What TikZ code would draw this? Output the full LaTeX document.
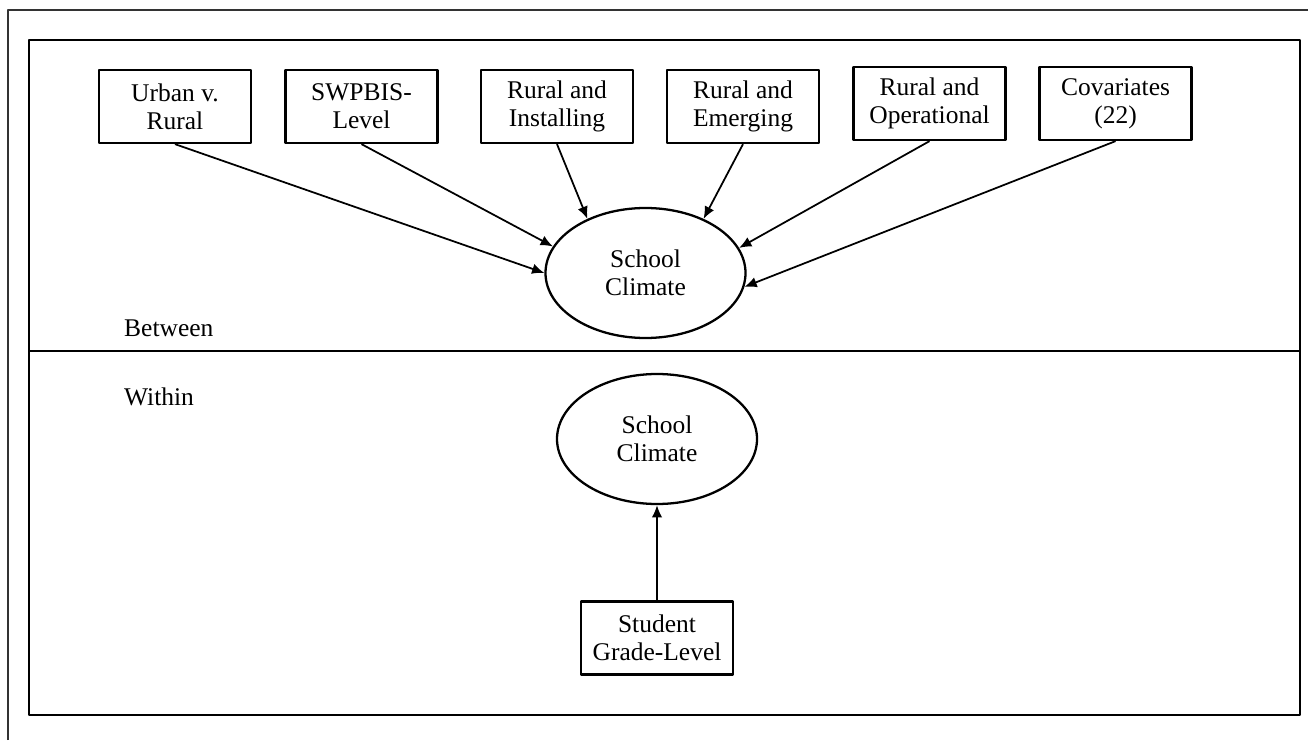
\documentclass[tikz,border=0pt]{standalone}
\usepackage{fontspec}
\setmainfont{Liberation Serif}
\usetikzlibrary{arrows.meta,shapes.geometric}

\begin{document}
\begin{tikzpicture}[x=1cm,y=1cm,line join=round,
  font=\fontsize{14.5}{16}\selectfont,
  obs/.style={draw,line width=1.3pt,minimum width=3.04cm,minimum height=1.46cm,align=center,inner sep=2pt},
  lat/.style={draw,ellipse,line width=1.3pt,minimum width=4cm,minimum height=2.6cm,align=center,inner sep=0pt},
  arr/.style={line width=1pt,-{Latex[length=7pt,width=6pt]}}]
  \useasboundingbox (0,0) rectangle (26.16,14.8);
  % frames
  \draw[line width=0.6pt,black!80] (0.16,0) -- (0.16,14.6) -- (26.16,14.6);
  \draw[line width=1.4pt] (0.58,0.5) rectangle (26.0,14.0);
  \draw[line width=1.4pt] (0.58,7.78) -- (26.0,7.78);
  % between level
  \node[obs] (ur) at (3.5,12.67) {Urban v.\\Rural};
  \node[obs] (sw) at (7.23,12.67) {SWPBIS-\\Level};
  \node[obs] (ri) at (11.14,12.67) {Rural and\\Installing};
  \node[obs] (re) at (14.86,12.67) {Rural and\\Emerging};
  \node[obs] (ro) at (18.59,12.73) {Rural and\\Operational};
  \node[obs] (cv) at (22.31,12.73) {Covariates\\(22)};
  \node[lat] (sc) at (12.91,9.34) {School\\Climate};
  \node[anchor=west] (btw) at (2.36,8.24) {Between};
  \foreach \n/\a in {ur/180,sw/164,ri/137,re/43,ro/15,cv/352}
    \draw[arr] (\n.south) -- (sc.\a);
  % within level
  \node[anchor=west] (wth) at (2.36,6.86) {Within};
  \node[lat] (scw) at (13.14,6.02) {School\\Climate};
  \node[obs] (gr) at (13.14,2.04) {Student\\Grade-Level};
  \draw[arr] (gr) -- (scw);
\end{tikzpicture}
\end{document}
